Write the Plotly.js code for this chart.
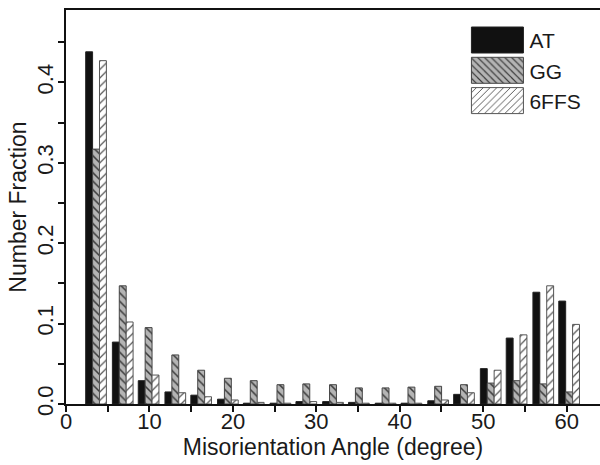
<!DOCTYPE html>
<html>
<head>
<meta charset="utf-8">
<script src="https://cdn.plot.ly/plotly-3.0.1.min.js"></script>
<style>html,body{margin:0;padding:0;background:#fff;}#chart{width:600px;height:465px;}</style>
</head>
<body>
<div id="chart"></div>
<script>
// Bin centres (degree)
var angles = [3.6, 6.8, 9.9, 13.1, 16.2, 19.4, 22.5, 25.7, 28.8, 32.0, 35.1, 38.3, 41.4, 44.6, 47.7, 50.9, 54.0, 57.2, 60.3];
var seriesNames = ['AT', 'GG', '6FFS'];
var valuesAT   = [0.438, 0.077, 0.029, 0.015, 0.011, 0.006, 0.001, 0.001, 0.003, 0.003, 0.002, 0.001, 0.001, 0.004, 0.012, 0.044, 0.082, 0.139, 0.128];
var valuesGG   = [0.317, 0.147, 0.095, 0.061, 0.042, 0.032, 0.029, 0.024, 0.025, 0.024, 0.020, 0.020, 0.021, 0.022, 0.024, 0.026, 0.029, 0.025, 0.015];
var values6FFS = [0.427, 0.102, 0.036, 0.014, 0.009, 0.005, 0.002, 0.001, 0.003, 0.002, 0.001, 0.001, 0.001, 0.005, 0.014, 0.042, 0.086, 0.147, 0.099];
var xTickVals = [0, 10, 20, 30, 40, 50, 60];
var yTickVals = [0.0, 0.1, 0.2, 0.3, 0.4];
var yTickText = ['0.0', '0.1', '0.2', '0.3', '0.4'];

var fontFam = 'Liberation Sans, Arial, sans-serif';
var traces = [
  {type:'bar', name:seriesNames[0], x:angles, y:valuesAT,
   marker:{color:'#111111', line:{color:'#222222', width:1}}},
  {type:'bar', name:seriesNames[1], x:angles, y:valuesGG,
   marker:{color:'#b4b4b4', line:{color:'#444444', width:1},
           pattern:{shape:'\\', fgcolor:'#3a3a3a', bgcolor:'#b4b4b4', size:6, solidity:0.25}}},
  {type:'bar', name:seriesNames[2], x:angles, y:values6FFS,
   marker:{color:'#ffffff', line:{color:'#555555', width:1},
           pattern:{shape:'/', fgcolor:'#555555', bgcolor:'#ffffff', size:6, solidity:0.2}}}
];

var layout = {
  width:600, height:465,
  margin:{l:66, r:0, t:10, b:61},
  paper_bgcolor:'#ffffff', plot_bgcolor:'#ffffff',
  barmode:'group', bargap:0.2, bargroupgap:0,
  font:{family:fontFam, color:'#1a1a1a', size:20},
  showlegend:true,
  legend:{x:0.748, y:0.975, xanchor:'left', yanchor:'top', bgcolor:'rgba(0,0,0,0)',
          font:{size:21, family:fontFam, color:'#1a1a1a'}, tracegroupgap:0, itemwidth:54},
  xaxis:{range:[0, 64], tickmode:'array', tickvals:xTickVals, ticks:'outside', ticklen:6, tickwidth:2,
         tickcolor:'#111', showline:true, linewidth:2, linecolor:'#111', mirror:true, showgrid:false, zeroline:false,
         minor:{dtick:5, tick0:0, ticks:'outside', ticklen:6, tickwidth:2, tickcolor:'#111', showgrid:false},
         tickfont:{size:22, family:fontFam}, ticklabelstandoff:-9,
         title:{text:'Misorientation Angle (degree)', font:{size:23, family:fontFam}, standoff:4}},
  yaxis:{range:[0, 0.49], tickmode:'array', tickvals:yTickVals, ticktext:yTickText, tickangle:-90,
         ticks:'outside', ticklen:6, tickwidth:2, tickcolor:'#111', showline:true, linewidth:2, linecolor:'#111',
         mirror:true, showgrid:false, zeroline:false,
         minor:{dtick:0.05, tick0:0, ticks:'outside', ticklen:6, tickwidth:2, tickcolor:'#111', showgrid:false},
         tickfont:{size:22, family:fontFam}, ticklabelstandoff:-4,
         title:{text:'Number Fraction', font:{size:23, family:fontFam}, standoff:0}}
};

Plotly.newPlot('chart', traces, layout, {displayModeBar:false, staticPlot:true}).then(function(gd){
  // enlarge legend swatches to match the reference's wide boxes
  var paths = gd.querySelectorAll('.legend g.legendpoints path');
  paths.forEach(function(p){
    p.setAttribute('d', 'M26,13H-26V-13H26Z');
  });
});
</script>
</body>
</html>
